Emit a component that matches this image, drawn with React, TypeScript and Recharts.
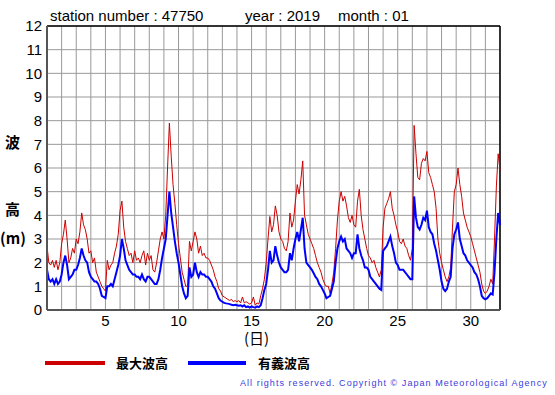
import { CartesianGrid, Line, LineChart, ReferenceLine, XAxis, YAxis } from "recharts";

// 3-hourly readings, 8 per day, from day 1 00h through day 32 00h
const MAX_WAVE = [
  2.7, 2.0, 1.9, 2.1, 1.8, 2.1, 1.7, 2.0,
  2.8, 3.2, 3.8, 3.0, 2.0, 2.2, 2.6, 2.4,
  3.0, 2.8, 3.3, 4.1, 3.6, 3.4, 3.0, 2.4,
  2.5, 2.0, 2.2, 1.6, 1.4, 1.2, 1.0, 0.9,
  0.8, 2.1, 1.7, 1.9, 2.0, 2.4, 2.7, 3.2,
  4.2, 4.6, 3.5, 2.9, 2.6, 2.3, 2.4, 2.0,
  2.5, 2.1, 2.2, 2.0, 2.3, 2.5, 1.9, 2.4,
  2.1, 2.3, 1.7, 1.6, 2.0, 2.5, 3.0, 3.3,
  3.0, 4.0, 6.0, 7.9, 6.5, 5.3, 4.5, 3.6,
  2.8, 2.2, 1.6, 1.3, 1.0, 1.0, 2.9, 2.5,
  2.9, 3.3, 3.0, 2.4, 2.7, 2.3, 2.4, 2.2,
  2.2, 2.1, 1.9, 1.7, 1.4, 1.2, 0.9, 0.8,
  0.6, 0.55, 0.5, 0.45, 0.4, 0.45, 0.35, 0.4,
  0.35, 0.4, 0.3, 0.55, 0.3, 0.35, 0.3, 0.25,
  0.3, 0.55, 0.2, 0.3, 0.25, 0.6, 0.9, 1.3,
  2.0, 3.0, 3.95, 3.3, 3.6, 4.4, 4.0, 3.3,
  3.0, 2.9, 2.6, 2.5, 2.9, 4.1, 3.5, 3.8,
  4.6, 5.3, 4.9, 5.5, 6.3, 4.0, 3.6, 3.2,
  3.0, 2.8, 2.6, 2.3, 2.0, 1.8, 1.6, 1.3,
  1.1, 1.0, 1.0, 0.7, 1.1, 1.6, 2.6, 3.8,
  4.6, 5.0, 4.6, 4.8, 4.4, 3.9, 3.7, 4.0,
  3.6, 3.5, 4.6, 5.1, 4.0, 3.4, 3.0, 2.6,
  2.3, 2.2, 2.0, 2.1, 1.8, 1.6, 1.4, 1.7,
  3.5, 4.3, 4.5, 4.7, 5.0, 4.3, 4.0, 3.6,
  3.3, 2.9, 2.8, 3.0, 2.7, 2.6, 2.3, 2.1,
  2.6, 7.8, 6.6, 5.6, 5.5, 6.2, 6.4, 6.3,
  6.7, 5.8, 5.6, 5.3, 5.0, 4.3, 3.0, 2.4,
  2.0, 1.7, 1.4, 1.2, 1.4, 1.8, 3.5, 5.0,
  5.3, 6.0, 5.3, 4.8, 4.1, 3.8, 3.5, 3.3,
  3.1, 2.8, 2.5, 2.2, 1.9, 1.6, 1.1, 0.8,
  0.7, 0.8, 1.0, 1.3, 1.1, 3.0, 5.2, 6.6,
  5.9,
];

const SIG_WAVE = [
  1.7, 1.3, 1.2, 1.3, 1.1, 1.3, 1.1, 1.2,
  1.5, 2.0, 2.3, 1.9, 1.3, 1.4, 1.5, 1.7,
  1.7, 1.9, 2.2, 2.6, 2.3, 2.1, 2.0, 1.6,
  1.4, 1.3, 1.2, 1.2, 1.1, 0.9, 0.6, 0.55,
  0.5, 1.0, 1.0, 1.1, 1.0, 1.3, 1.6, 1.9,
  2.3, 3.0, 2.6, 2.1, 1.9, 1.7, 1.6, 1.5,
  1.5, 1.4, 1.4, 1.3, 1.5, 1.3, 1.2, 1.4,
  1.4, 1.3, 1.2, 1.1, 1.1, 1.3, 1.7, 2.2,
  2.6, 3.0, 4.0, 5.0, 4.1, 3.5, 2.9, 2.4,
  2.0, 1.5, 1.0, 0.7, 0.5, 0.6, 1.8, 1.4,
  1.5, 2.0, 1.6, 1.4, 1.6, 1.5, 1.5, 1.4,
  1.4, 1.3, 1.2, 1.0, 0.9, 0.7, 0.5, 0.4,
  0.35, 0.3, 0.28, 0.27, 0.25, 0.22, 0.2, 0.22,
  0.2, 0.18, 0.2, 0.15, 0.2, 0.12, 0.15, 0.1,
  0.15, 0.12, 0.1, 0.15, 0.12, 0.2, 0.5, 0.85,
  1.1, 1.7, 2.5, 2.0, 2.1, 2.7, 2.3, 2.0,
  1.8, 1.7, 1.6, 1.6, 1.7, 2.4, 2.1, 2.6,
  3.0, 3.3, 2.9, 3.4, 3.9, 2.6, 2.0, 1.9,
  1.8, 1.7, 1.55, 1.4, 1.3, 1.1, 1.0, 0.85,
  0.7, 0.5, 0.55, 0.6, 0.9, 1.2, 2.0, 2.6,
  2.9, 3.1, 2.9, 3.0, 2.6, 2.5, 2.4, 2.2,
  2.4, 2.4, 3.2, 2.6, 2.3, 2.1, 1.8, 1.8,
  1.7, 1.4, 1.3, 1.2, 1.1, 1.0, 0.9, 0.85,
  2.5, 2.6, 2.7, 2.9, 3.1, 2.7, 2.4, 2.0,
  1.9, 1.7, 1.7, 1.7, 1.6, 1.5, 1.4, 1.3,
  1.3, 4.8, 3.9, 3.5, 3.4, 3.6, 3.9, 3.8,
  4.2, 3.5, 3.3, 3.2, 2.8, 2.5, 2.1, 1.7,
  1.2, 0.9, 0.8, 0.9, 1.2, 1.4, 2.6, 3.2,
  3.4, 3.7, 3.0, 2.7, 2.4, 2.3, 2.1, 2.0,
  1.9, 1.8, 1.6, 1.5, 1.3, 1.0, 0.6, 0.5,
  0.45, 0.5, 0.6, 0.7, 0.65, 1.6, 3.0, 4.1,
  3.6,
];

const DAY_TICKS = [1, 2, 3, 4, 5, 6, 7, 8, 9, 10, 11, 12, 13, 14, 15, 16, 17, 18, 19, 20, 21, 22, 23, 24, 25, 26, 27, 28, 29, 30, 31, 32];
const DAY_LABELS = [5, 10, 15, 20, 25, 30];
const HEIGHT_TICKS = [0, 1, 2, 3, 4, 5, 6, 7, 8, 9, 10, 11, 12];

const data = MAX_WAVE.map((v, i) => ({ t: 1 + i / 8, max: v, sig: SIG_WAVE[i] }));

const FONT = "'Liberation Sans', Arial, Helvetica, sans-serif";
const CJK = "'Noto Sans CJK JP', sans-serif";

const abs = (left: number, top: number, extra: React.CSSProperties = {}): React.CSSProperties => ({
  position: "absolute",
  left,
  top,
  whiteSpace: "nowrap",
  lineHeight: 1,
  zIndex: 2,
  ...extra,
});

export default function App() {
  const cjkBold = { fontFamily: CJK, fontWeight: 700, fontSize: 15 };
  return (
    <div style={{ position: "relative", width: 555, height: 395, background: "#fff", fontFamily: FONT }}>
      <style>{"body{margin:0}"}</style>
      <LineChart width={555} height={395} data={data} margin={{ top: 26, right: 55, bottom: 55, left: 0 }}>
        <CartesianGrid stroke="#999" strokeWidth={1} />
        <XAxis
          dataKey="t"
          type="number"
          domain={[1, 32]}
          ticks={DAY_TICKS}
          interval={0}
          tickFormatter={(d: number) => (DAY_LABELS.includes(d) ? String(d) : "")}
          tickLine={false}
          tickSize={4}
          tickMargin={1}
          height={30}
          axisLine={{ stroke: "#555", strokeWidth: 2 }}
          tick={{ fill: "#000", fontSize: 15, fontFamily: FONT }}
        />
        <YAxis
          type="number"
          domain={[0, 12]}
          ticks={HEIGHT_TICKS}
          interval={0}
          tickLine={false}
          tickSize={3}
          tickMargin={2}
          width={47}
          axisLine={{ stroke: "#555", strokeWidth: 2 }}
          tick={{ fill: "#000", fontSize: 15, fontFamily: FONT }}
        />
        <ReferenceLine x={32} stroke="#000" strokeWidth={1.5} />
        <ReferenceLine y={12} stroke="#000" strokeWidth={1.5} />
        <Line type="linear" dataKey="max" stroke="#cc0000" strokeWidth={1} dot={false} isAnimationActive={false} />
        <Line type="linear" dataKey="sig" stroke="#0000ff" strokeWidth={2} dot={false} isAnimationActive={false} />
      </LineChart>

      <div style={abs(50, 8, { fontSize: 15 })}>station number : 47750</div>
      <div style={abs(245, 8, { fontSize: 15 })}>year : 2019</div>
      <div style={abs(338, 8, { fontSize: 15 })}>month : 01</div>

      <div style={abs(5, 134, cjkBold)}>波</div>
      <div style={abs(5, 201, cjkBold)}>高</div>
      <div style={abs(0, 230, cjkBold)}>(m)</div>
      <div style={abs(244, 330, { fontFamily: CJK, fontSize: 15 })}>(日)</div>

      <div style={{ position: "absolute", left: 45, top: 361, width: 60, height: 4, background: "#cc0000" }} />
      <div style={abs(116, 356, { fontFamily: CJK, fontWeight: 700, fontSize: 13 })}>最大波高</div>
      <div style={{ position: "absolute", left: 188, top: 361, width: 58, height: 4, background: "#0000ff" }} />
      <div style={abs(258, 356, { fontFamily: CJK, fontWeight: 700, fontSize: 13 })}>有義波高</div>

      <div style={abs(240, 379, { fontSize: 9, letterSpacing: 1.05, color: "#3b3bdb" })}>
        All rights reserved. Copyright © Japan Meteorological Agency
      </div>
    </div>
  );
}
